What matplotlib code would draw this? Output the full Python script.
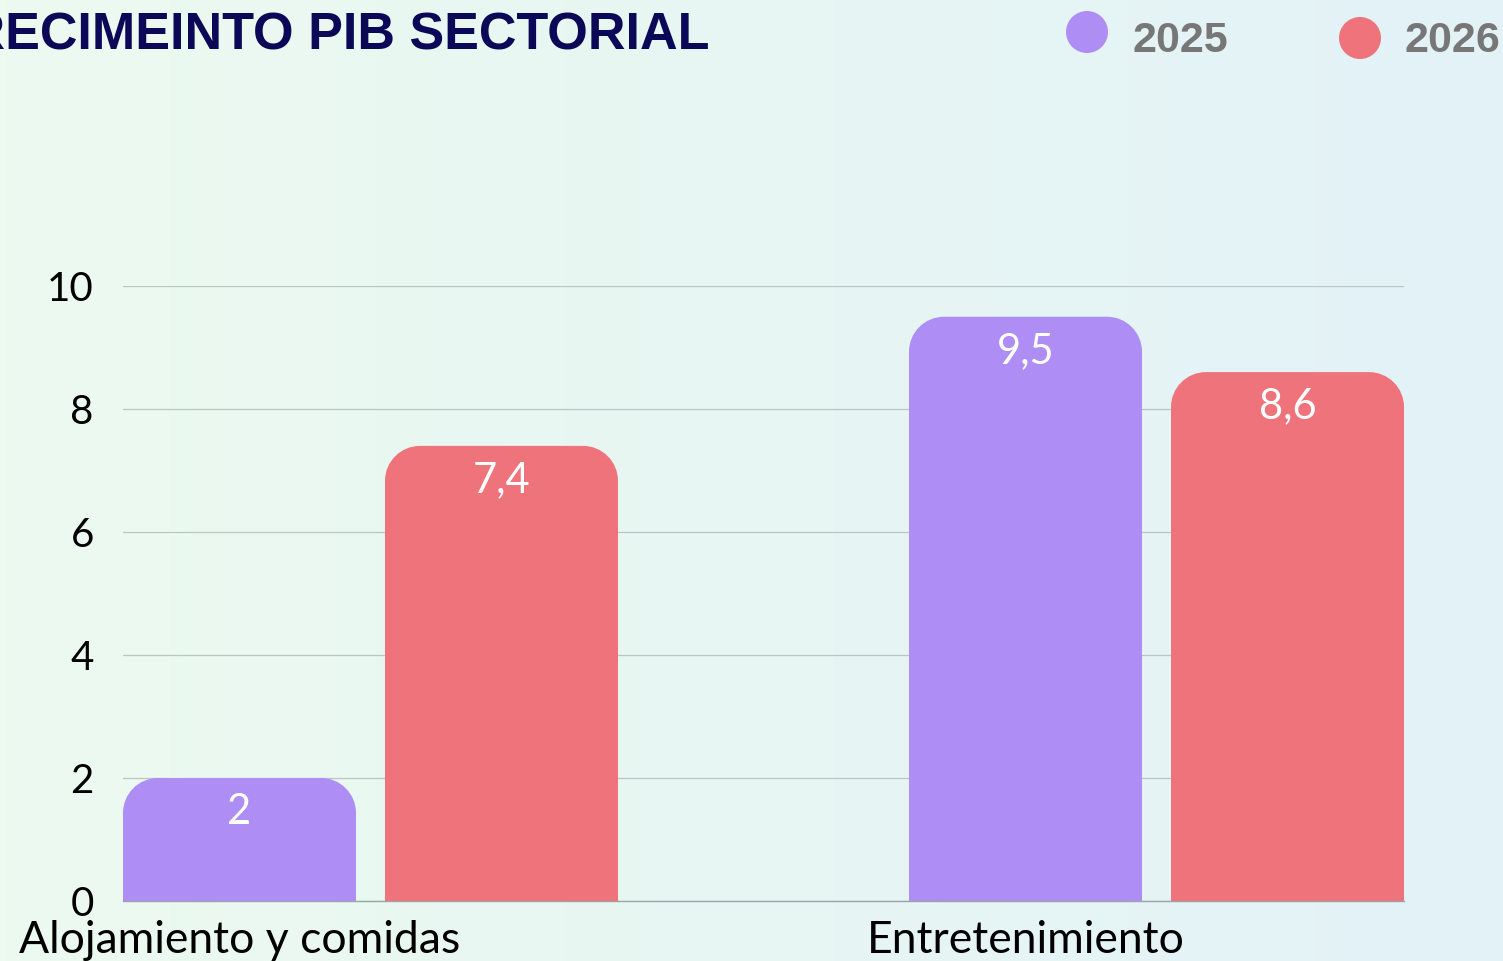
import numpy as np
import matplotlib
matplotlib.use("Agg")
import matplotlib.pyplot as plt
from matplotlib.path import Path
from matplotlib.patches import PathPatch, Ellipse

categories = ["Alojamiento y comidas", "Entretenimiento"]
series_names = ["2025", "2026"]
values_2025 = [2.0, 9.5]
values_2026 = [7.4, 8.6]
value_labels_2025 = ["2", "9,5"]
value_labels_2026 = ["7,4", "8,6"]
yticks = [0, 2, 4, 6, 8, 10]
title = "CRECIMEINTO PIB SECTORIAL"

colors = ["#ae8ef4", "#ef737b"]
FONT = "Lato"

W, H = 1503, 961
fig = plt.figure(figsize=(W / 100, H / 100), dpi=100)

# background gradient
bg = fig.add_axes([0, 0, 1, 1], zorder=-10)
grad = np.linspace(0, 1, 256)
c0 = np.array([236, 250, 240]) / 255
c1 = np.array([227, 242, 247]) / 255
img = c0[None, None, :] * (1 - grad)[None, :, None] + c1[None, None, :] * grad[None, :, None]
bg.imshow(img, aspect="auto", extent=[0, 1, 0, 1])
bg.axis("off")

# main axes: x 123..1404 px, y 286..901 px
left, right, top, bottom = 123, 1404, 286, 901
ax = fig.add_axes([left / W, 1 - bottom / H, (right - left) / W, (bottom - top) / H])
ax.patch.set_alpha(0)

x = np.arange(len(categories))
bw = 233 / 786
off = 131 / 786
ax.set_xlim(-247.5 / 786, 1 + 247.5 / 786)
ax.set_ylim(0, 10)

for s in ["top", "right", "left"]:
    ax.spines[s].set_visible(False)
ax.spines["bottom"].set_color("#9aa6a6")
ax.spines["bottom"].set_linewidth(1.0)
ax.set_yticks(yticks)
ax.set_yticklabels([str(t) for t in yticks], fontsize=29, family=FONT)
ax.yaxis.grid(True, color="#b9c6c4", linewidth=0.9)
ax.set_axisbelow(True)
ax.tick_params(axis="y", length=0, pad=21)
ax.set_xticks(x - off)
ax.set_xticklabels(categories, fontsize=32, family=FONT)
ax.tick_params(axis="x", length=0, pad=14)

px_x = (1 + 2 * 247.5 / 786) / (right - left)
px_y = 10 / (bottom - top)
r = 35


def rounded_top(x0, w, h):
    rx, ry = r * px_x, r * px_y
    ry = min(ry, h)
    k = 0.5523
    verts = [
        (x0, 0), (x0, h - ry),
        (x0, h - ry + k * ry), (x0 + rx - k * rx, h), (x0 + rx, h),
        (x0 + w - rx, h),
        (x0 + w - rx + k * rx, h), (x0 + w, h - ry + k * ry), (x0 + w, h - ry),
        (x0 + w, 0), (x0, 0),
    ]
    codes = [Path.MOVETO, Path.LINETO,
             Path.CURVE4, Path.CURVE4, Path.CURVE4,
             Path.LINETO,
             Path.CURVE4, Path.CURVE4, Path.CURVE4,
             Path.LINETO, Path.CLOSEPOLY]
    return Path(verts, codes)


for vals, labs, dx, col in [(values_2025, value_labels_2025, -off, colors[0]),
                             (values_2026, value_labels_2026, off, colors[1])]:
    bars = ax.bar(x + dx, vals, bw, color=col, alpha=0)
    for b, lab in zip(bars, labs):
        p = PathPatch(rounded_top(b.get_x(), b.get_width(), b.get_height()),
                      facecolor=col, edgecolor="none", zorder=3, clip_on=False)
        ax.add_patch(p)
        ax.annotate(lab, (b.get_x() + b.get_width() / 2, b.get_height()),
                    xytext=(0, -34), textcoords="offset pixels",
                    ha="center", va="center", color="white", fontsize=30,
                    family=FONT, zorder=4)

# title
fig.text(710 / W, 1 - 50 / H, title, ha="right", va="baseline",
         fontsize=37.5, fontweight="bold", family="Liberation Sans", color="#0b0857")

# legend
leg_items = [(1087, 32, 1133), (1360, 38, 1405)]
for (cx, cy, tx), name, col in zip(leg_items, series_names, colors):
    fig.patches.append(Ellipse((cx / W, 1 - cy / H), 42 / W, 42 / H,
                               transform=fig.transFigure,
                               facecolor=col, edgecolor="none"))
    fig.text(tx / W, 1 - 52 / H, name, ha="left", va="baseline", fontsize=31,
             fontweight="bold", family="Liberation Sans", color="#777777")

fig.savefig("out.png", dpi=100)
